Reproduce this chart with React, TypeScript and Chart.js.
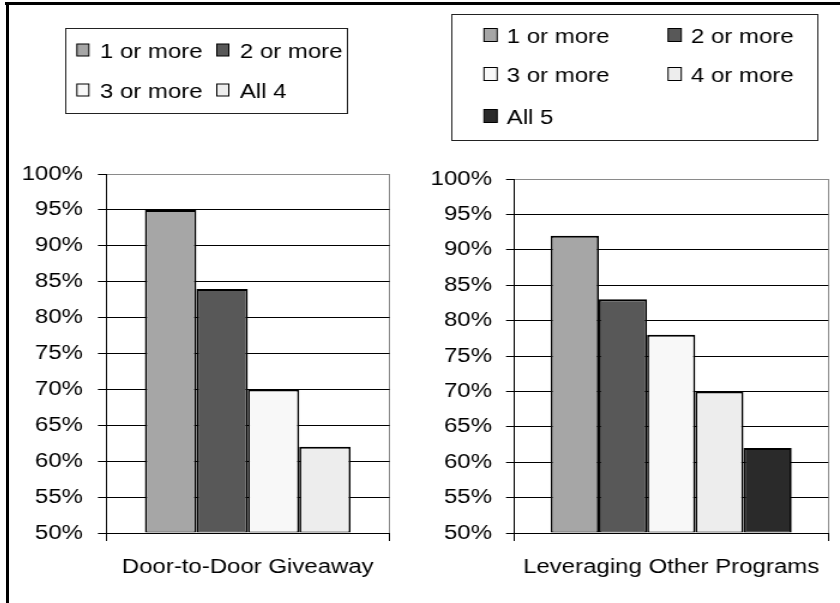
import React, { useEffect, useRef } from 'react';
import { Chart, registerables } from 'chart.js';

Chart.register(...registerables);

// ---------- data ----------
const leftCategories = ['Door-to-Door Giveaway'];
const leftSeries = ['1 or more', '2 or more', '3 or more', 'All 4'];
const leftValues = [95, 84, 70, 62];

const rightCategories = ['Leveraging Other Programs'];
const rightSeries = ['1 or more', '2 or more', '3 or more', '4 or more', 'All 5'];
const rightValues = [92, 83, 78, 70, 62];

const yTickValues = [50, 55, 60, 65, 70, 75, 80, 85, 90, 95, 100];
const yTickLabels = ['50%', '55%', '60%', '65%', '70%', '75%', '80%', '85%', '90%', '95%', '100%'];

// ---------- styles ----------
const leftColors = ['#A6A6A6', '#585858', '#F8F8F8', '#EDEDED'];
const rightColors = ['#A6A6A6', '#585858', '#F8F8F8', '#EDEDED', '#2A2A2A'];
const FONT = "'Liberation Sans', Arial, sans-serif";
const SX = 1.2; // horizontal stretch of the scanned figure

const boxLegend = {
  id: 'boxLegend',
  afterDraw(chart: any, _args: any, opts: any) {
    if (!opts || !opts.frame) return;
    const ctx = chart.ctx;
    const f = opts.frame;
    ctx.save();
    ctx.lineWidth = 1;
    ctx.strokeStyle = opts.frameColor;
    ctx.strokeRect(f.x, f.y, f.w, f.h);
    ctx.font = `${opts.fontSize}px ${FONT}`;
    ctx.textBaseline = 'middle';
    ctx.textAlign = 'left';
    const cols = opts.cols;
    const rows = opts.rows;
    chart.data.datasets.forEach((ds: any, i: number) => {
      const c = i % cols.length;
      const r = Math.floor(i / cols.length);
      const x = cols[c];
      const y = rows[r];
      ctx.fillStyle = ds.backgroundColor;
      ctx.fillRect(x, y - opts.boxH / 2, opts.boxW, opts.boxH);
      ctx.strokeStyle = '#000';
      ctx.lineWidth = 1;
      ctx.strokeRect(x, y - opts.boxH / 2, opts.boxW, opts.boxH);
      ctx.fillStyle = '#000';
      ctx.fillText(ds.label, x + opts.textOffset, y + 2);
    });
    ctx.restore();
  },
};

function makeConfig(
  categories: string[],
  series: string[],
  values: number[],
  colors: string[],
  layout: any,
) {
  return {
    type: 'bar' as const,
    data: {
      labels: categories,
      datasets: series.map((label, i) => ({
        label,
        data: [values[i]],
        backgroundColor: colors[i],
        borderColor: '#000',
        borderWidth: { top: 2, bottom: 1, left: 1.7, right: 1.7 },
        borderSkipped: false,
        base: yTickValues[0],
        categoryPercentage: layout.catPct,
        barPercentage: 1,
      })),
    },
    plugins: [boxLegend],
    options: {
      responsive: false,
      devicePixelRatio: 1,
      animation: false as const,
      events: [],
      layout: { padding: { top: layout.top, right: layout.right, left: 0, bottom: 0 } },
      plugins: {
        legend: { display: false },
        tooltip: { enabled: false },
        boxLegend: layout.legend,
      },
      scales: {
        x: {
          offset: true,
          grid: {
            offset: true,
            drawOnChartArea: true,
            color: (c: any) => (c.index === 0 ? '#000' : '#8a8a8a'),
            tickColor: '#000',
            tickLength: 8,
            lineWidth: 1,
          },
          border: { display: true, color: '#000', width: 1 },
          ticks: { padding: 14, color: '#000', font: { family: FONT, size: 20 }, maxRotation: 0, autoSkip: false },
          afterFit: (s: any) => { s.height = layout.xAxisH; },
        },
        y: {
          min: yTickValues[0],
          max: yTickValues[yTickValues.length - 1],
          afterBuildTicks: (s: any) => { s.ticks = yTickValues.map((v) => ({ value: v })); },
          ticks: {
            padding: layout.yPad,
            color: '#000',
            font: { family: FONT, size: 20 },
            callback: (_v: any, i: number) => yTickLabels[i],
          },
          grid: {
            color: (c: any) => (c.tick && c.tick.value === yTickValues[yTickValues.length - 1] ? '#8a8a8a' : '#000'),
            tickColor: '#000',
            tickLength: 8 / SX,
            lineWidth: 1,
          },
          border: { display: true, color: '#000', width: 1 },
          afterFit: (s: any) => { s.width = layout.yAxisW; },
        },
      },
    },
  };
}

function ChartCanvas(props: { config: any; left: number; top: number; w: number; h: number }) {
  const ref = useRef<HTMLCanvasElement | null>(null);
  useEffect(() => {
    if (!ref.current) return;
    const chart = new Chart(ref.current, props.config);
    return () => chart.destroy();
  }, []);
  return (
    <canvas
      ref={ref}
      width={props.w}
      height={props.h}
      style={{
        position: 'absolute',
        left: props.left,
        top: props.top,
        width: `${props.w * SX}px`,
        height: `${props.h}px`,
      }}
    />
  );
}

const leftLayout = {
  catPct: 0.725,
  top: 169,
  right: 342 - 316.67,
  xAxisH: 67,
  yAxisW: 80,
  yPad: 12.5,
  legend: {
    frame: { x: 46.5, y: 23.5, w: 235, h: 85 },
    frameColor: '#222',
    fontSize: 20,
    cols: [55.8, 172.5],
    rows: [45, 85],
    boxW: 10,
    boxH: 12,
    textOffset: 19.2,
  },
};

const rightLayout = {
  catPct: 0.767,
  top: 174,
  right: 350 - 343.33,
  xAxisH: 67,
  yAxisW: 78.33,
  yPad: 11.7,
  legend: {
    frame: { x: 26.5, y: 9.5, w: 305, h: 126 },
    frameColor: '#222',
    fontSize: 20,
    cols: [53.3, 206.7],
    rows: [30, 69, 111],
    boxW: 11,
    boxH: 13,
    textOffset: 19,
  },
};

export default function App() {
  const leftConfig = makeConfig(leftCategories, leftSeries, leftValues, leftColors, leftLayout);
  const rightConfig = makeConfig(rightCategories, rightSeries, rightValues, rightColors, rightLayout);
  return (
    <div
      style={{
        position: 'absolute',
        left: 0,
        top: 0,
        width: 840,
        height: 603,
        background: '#fff',
        overflow: 'hidden',
      }}
    >
      <div style={{ position: 'absolute', left: 5, top: 2, width: 835, height: 3, background: '#000' }} />
      <div style={{ position: 'absolute', left: 6, top: 2, width: 3, height: 601, background: '#000' }} />
      <ChartCanvas config={leftConfig} left={10} top={5} w={342} h={595} />
      <ChartCanvas config={rightConfig} left={420} top={5} w={350} h={595} />
    </div>
  );
}
